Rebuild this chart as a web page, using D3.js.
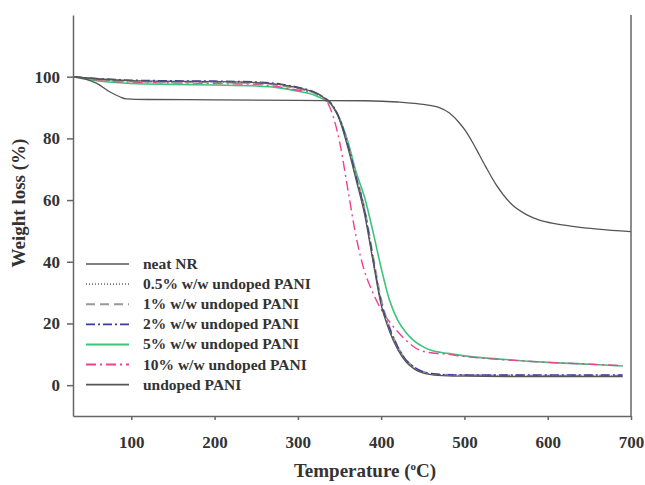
<!DOCTYPE html>
<html>
<head>
<meta charset="utf-8">
<script src="https://cdn.jsdelivr.net/npm/d3@7"></script>
<style>
  body { margin: 0; background: #fff; }
  text { font-family: "Liberation Serif", "Times New Roman", serif; font-weight: bold; fill: #333; }
</style>
</head>
<body>
<div id="chart-area"></div>
<script>
// Temperature grid for the composite curves (deg C)
var tempPani = [30, 50, 100, 150, 200, 250, 280, 300, 320, 330, 340, 350, 360, 370, 380, 390, 400, 410, 420, 430, 440, 450, 460, 480, 500, 550, 600, 650, 690];

// Weight values (%)
var pani05 = [100, 99.5, 98.6, 98.4, 98.3, 98.0, 97.3, 96.3, 94.8, 93.2, 91.0, 86.0, 77.5, 67.0, 56.0, 41.0, 26.5, 18.0, 12.0, 7.8, 5.5, 4.2, 3.6, 3.3, 3.2, 3.1, 3.0, 3.0, 3.0];
var pani1 = [100, 99.4, 98.4, 98.2, 98.1, 97.8, 97.1, 96.1, 94.6, 93.0, 90.8, 86.5, 78.5, 68.0, 57.5, 42.5, 28.0, 19.0, 12.5, 8.2, 5.8, 4.4, 3.8, 3.4, 3.3, 3.2, 3.1, 3.1, 3.1];
var pani2 = [100, 99.6, 98.9, 98.7, 98.6, 98.3, 97.6, 96.6, 95.0, 93.5, 91.4, 86.5, 78.0, 67.5, 57.0, 41.5, 27.0, 18.5, 12.5, 8.2, 5.8, 4.4, 3.8, 3.4, 3.3, 3.3, 3.3, 3.3, 3.3];
var pani5 = [100, 99.0, 97.8, 97.5, 97.3, 97.0, 96.3, 95.3, 94.0, 92.8, 91.0, 86.5, 79.0, 69.0, 61.0, 50.0, 38.0, 27.6, 21.0, 17.0, 14.3, 12.5, 11.3, 10.3, 9.5, 8.3, 7.4, 6.8, 6.2];
var pani10 = [100, 99.3, 98.2, 98.0, 97.8, 97.5, 96.6, 95.6, 94.8, 93.5, 89.0, 79.0, 63.5, 48.0, 37.0, 30.0, 24.5, 20.5, 17.3, 14.5, 12.3, 11.0, 10.5, 10.0, 9.3, 8.2, 7.4, 6.8, 6.3];
var paniUndoped = [100, 99.5, 98.7, 98.5, 98.4, 98.1, 97.4, 96.4, 94.9, 93.4, 91.2, 86.0, 77.0, 66.5, 55.5, 40.5, 26.0, 17.5, 11.5, 7.5, 5.2, 4.0, 3.4, 3.0, 2.9, 2.8, 2.8, 2.8, 2.8];

// neat NR has its own temperature grid
var tempNR = [30, 45, 58, 74, 86, 94, 120, 200, 300, 380, 420, 445, 470, 482, 494, 502, 510, 518, 526, 538, 558, 575, 590, 610, 630, 660, 700];
var neatNR = [100, 99.2, 97.9, 95.1, 93.5, 92.8, 92.6, 92.5, 92.3, 92.2, 91.8, 91.2, 90.0, 88.2, 85.0, 82.2, 78.6, 74.6, 70.6, 65.0, 58.3, 55.2, 53.5, 52.3, 51.5, 50.6, 49.8];

var seriesNames = ["neat NR", "0.5% w/w undoped PANI", "1% w/w undoped PANI", "2% w/w undoped PANI",
    "5% w/w undoped PANI", "10% w/w undoped PANI", "undoped PANI"];

var xTicks = [100, 200, 300, 400, 500, 600, 700];
var yTicks = [0, 20, 40, 60, 80, 100];

var series = [
    { name: seriesNames[0], t: tempNR, v: neatNR, color: "#555", dash: null, w: 1.3 },
    { name: seriesNames[1], t: tempPani, v: pani05, color: "#777", dash: "1,2", w: 1.2 },
    { name: seriesNames[2], t: tempPani, v: pani1, color: "#999", dash: "9,5", w: 1.6 },
    { name: seriesNames[3], t: tempPani, v: pani2, color: "#3b3ba6", dash: "9,3,2,3", w: 1.3 },
    { name: seriesNames[4], t: tempPani, v: pani5, color: "#3cc47a", dash: null, w: 1.6 },
    { name: seriesNames[5], t: tempPani, v: pani10, color: "#f0408f", dash: "10,4,2,4", w: 1.4 },
    { name: seriesNames[6], t: tempPani, v: paniUndoped, color: "#555", dash: null, w: 1.3 }
];

var W = 645, H = 485;
var mLeft = 73, mRight = 631, mTop = 15, mBottom = 416;

var svg = d3.select("#chart-area").append("svg")
    .attr("width", W)
    .attr("height", H);

var x = d3.scaleLinear().domain([30, 700]).range([mLeft, mRight]);
var y = d3.scaleLinear().domain([-10, 120]).range([mBottom, mTop]);

// Curves
var line = d3.line()
    .x(function (d) { return x(d[0]); })
    .y(function (d) { return y(d[1]); })
    .curve(d3.curveMonotoneX);

// draw composites first, neat NR and undoped PANI on top
var order = [4, 5, 2, 1, 3, 6, 0];
order.forEach(function (i) {
    var s = series[i];
    var pts = s.t.map(function (t, j) { return [t, s.v[j]]; });
    svg.append("path")
        .attr("d", line(pts))
        .attr("fill", "none")
        .attr("stroke", s.color)
        .attr("stroke-width", s.w)
        .attr("stroke-dasharray", s.dash);
});

// Axes
var xAxis = svg.append("g")
    .attr("transform", "translate(0," + mBottom + ")")
    .call(d3.axisBottom(x).tickValues(xTicks).tickSize(4).tickSizeOuter(0).tickPadding(16));
var yAxis = svg.append("g")
    .attr("transform", "translate(" + mLeft + ",0)")
    .call(d3.axisLeft(y).tickValues(yTicks).tickSize(6).tickSizeOuter(0).tickPadding(7));

[xAxis, yAxis].forEach(function (a) {
    a.selectAll("path, line").attr("stroke", "#666").attr("stroke-width", 1.5);
    a.selectAll("text")
        .style("font-family", "'Liberation Serif', serif")
        .style("font-weight", "bold")
        .style("font-size", "17px")
        .attr("fill", "#333");
});

// right frame line
svg.append("line")
    .attr("x1", x(700)).attr("x2", x(700))
    .attr("y1", mTop).attr("y2", mBottom)
    .attr("stroke", "#666").attr("stroke-width", 1.5);

// Axis titles
var xTitle = svg.append("text")
    .attr("x", 365)
    .attr("y", 477)
    .attr("text-anchor", "middle")
    .style("font-size", "19px");
xTitle.append("tspan").text("Temperature (");
xTitle.append("tspan").attr("dy", -7).style("font-size", "11px").text("o");
xTitle.append("tspan").attr("dy", 7).text("C)");

svg.append("text")
    .attr("transform", "translate(25,203) rotate(-90)")
    .attr("text-anchor", "middle")
    .style("font-size", "19px")
    .text("Weight loss (%)");

// Legend
var legend = svg.append("g");
series.forEach(function (s, i) {
    var cy = 264 + i * 20.1;
    legend.append("line")
        .attr("x1", 86).attr("x2", 129)
        .attr("y1", cy).attr("y2", cy)
        .attr("stroke", s.color)
        .attr("stroke-width", s.w + 0.4)
        .attr("stroke-dasharray", s.dash);
    legend.append("text")
        .attr("x", 143)
        .attr("y", cy + 5)
        .style("font-size", "15.5px")
        .text(s.name);
});
</script>
</body>
</html>
